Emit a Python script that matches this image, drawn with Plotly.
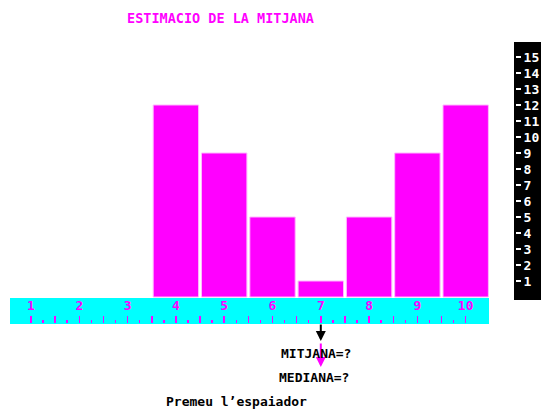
import plotly.graph_objects as go

# ---- data ----
categories = [1, 2, 3, 4, 5, 6, 7, 8, 9, 10]
counts = [0, 0, 0, 12, 9, 5, 1, 5, 9, 12]
y_ticks = list(range(1, 16))
title_text = "ESTIMACIO DE LA MITJANA"
mean_label = "MITJANA=?"
median_label = "MEDIANA=?"
prompt_text = "Premeu l’espaiador"

W, H = 541, 415
PPU_X = 48.3       # px per x unit
PPU_Y = 16.0       # px per y unit
X_ORIGIN_PX = 31   # pixel of category 1
Y_BASE_PX = 297    # pixel of value 0

x_lo = categories[0] - X_ORIGIN_PX / PPU_X
x_hi = x_lo + W / PPU_X
y_hi = Y_BASE_PX / PPU_Y
y_lo = y_hi - H / PPU_Y

def px_x(px):
    return px / W

def px_y(py):
    return (H - py) / H

def ydata(py):
    return (Y_BASE_PX - py) / PPU_Y

total = sum(counts)
mean = sum(c * n for c, n in zip(categories, counts)) / total

MAG = "#ff00ff"
CYAN = "#00ffff"
FONT = "DejaVu Sans Mono"

fig = go.Figure()
fig.add_trace(go.Bar(
    x=categories, y=counts, width=0.94,
    marker=dict(color=MAG, line=dict(color="#ffb8ff",
                                     width=[1 if n > 0 else 0 for n in counts])),
    hoverinfo="skip", showlegend=False,
))
fig.add_trace(go.Scatter(
    x=categories, y=counts, mode="markers", marker=dict(opacity=0),
    xaxis="x2", hoverinfo="skip", showlegend=False,
))

half_ticks = [categories[0] + 0.5 * i for i in range(2 * (categories[-1] - categories[0]) + 1)]
quarter_ticks = [t + 0.25 for t in half_ticks[:-1]]

fig.update_layout(
    width=W, height=H, autosize=False,
    margin=dict(l=0, r=0, t=0, b=0, pad=0),
    paper_bgcolor="white", plot_bgcolor="white",
    bargap=0,
    xaxis=dict(
        range=[x_lo, x_hi], showgrid=False, zeroline=False, showline=False,
        automargin=False, fixedrange=True,
        anchor="free", position=px_y(296), side="bottom",
        tickmode="array", tickvals=categories, ticktext=[str(c) for c in categories],
        ticks="", tickfont=dict(family=FONT, size=13, color=MAG, weight="bold"),
    ),
    xaxis2=dict(
        overlaying="x", matches="x", showgrid=False, zeroline=False, showline=False,
        automargin=False, fixedrange=True,
        anchor="free", position=px_y(323), side="top",
        tickmode="array", tickvals=half_ticks, ticks="outside", ticklen=7,
        tickwidth=1.5, tickcolor=MAG, showticklabels=False,
        minor=dict(tickmode="array", tickvals=quarter_ticks, ticks="outside",
                   ticklen=3, tickwidth=1.5, tickcolor=MAG),
    ),
    yaxis=dict(
        range=[y_lo, y_hi], showgrid=False, zeroline=False, showline=False,
        automargin=False, fixedrange=True,
        side="right", anchor="free", position=px_x(515),
        tickmode="array", tickvals=y_ticks, ticks="outside", ticklen=5,
        tickwidth=1.5, tickcolor="white",
        tickfont=dict(family=FONT, size=13, color="white", weight="bold"),
    ),
    shapes=[
        dict(type="rect", xref="paper", yref="paper", layer="below",
             x0=px_x(514), x1=1, y0=px_y(300), y1=px_y(42),
             fillcolor="black", line=dict(width=0)),
        dict(type="rect", xref="paper", yref="paper", layer="below",
             x0=px_x(10), x1=px_x(489), y0=px_y(324), y1=px_y(298),
             fillcolor=CYAN, line=dict(width=0)),
    ],
    annotations=[
        dict(text=title_text, xref="paper", yref="paper", x=px_x(125), y=px_y(18),
             xanchor="left", yanchor="middle", showarrow=False,
             font=dict(family=FONT, size=13.5, color=MAG, weight="bold")),
        dict(x=mean, y=ydata(341), xref="x", yref="y", text="", showarrow=True,
             ax=0, ay=-18, arrowhead=2, arrowsize=1, arrowwidth=2, arrowcolor="black"),
        dict(x=mean, y=ydata(367), xref="x", yref="y", text="", showarrow=True,
             ax=0, ay=-25, arrowhead=2, arrowsize=1, arrowwidth=2, arrowcolor=MAG),
        dict(text=mean_label, xref="paper", yref="paper", x=px_x(279), y=px_y(353),
             xanchor="left", yanchor="middle", showarrow=False,
             font=dict(family=FONT, size=13, color="black", weight="bold")),
        dict(text=median_label, xref="paper", yref="paper", x=px_x(277), y=px_y(377),
             xanchor="left", yanchor="middle", showarrow=False,
             font=dict(family=FONT, size=13, color="black", weight="bold")),
        dict(text=prompt_text, xref="paper", yref="paper", x=px_x(164), y=px_y(401),
             xanchor="left", yanchor="middle", showarrow=False,
             font=dict(family=FONT, size=13, color="black", weight="bold")),
    ],
)

fig.write_html(
    "out.html",
    config={"displayModeBar": False, "staticPlot": True},
    post_script="document.body.style.margin='0';document.body.style.overflow='hidden';"
                "document.documentElement.style.overflow='hidden';",
)
